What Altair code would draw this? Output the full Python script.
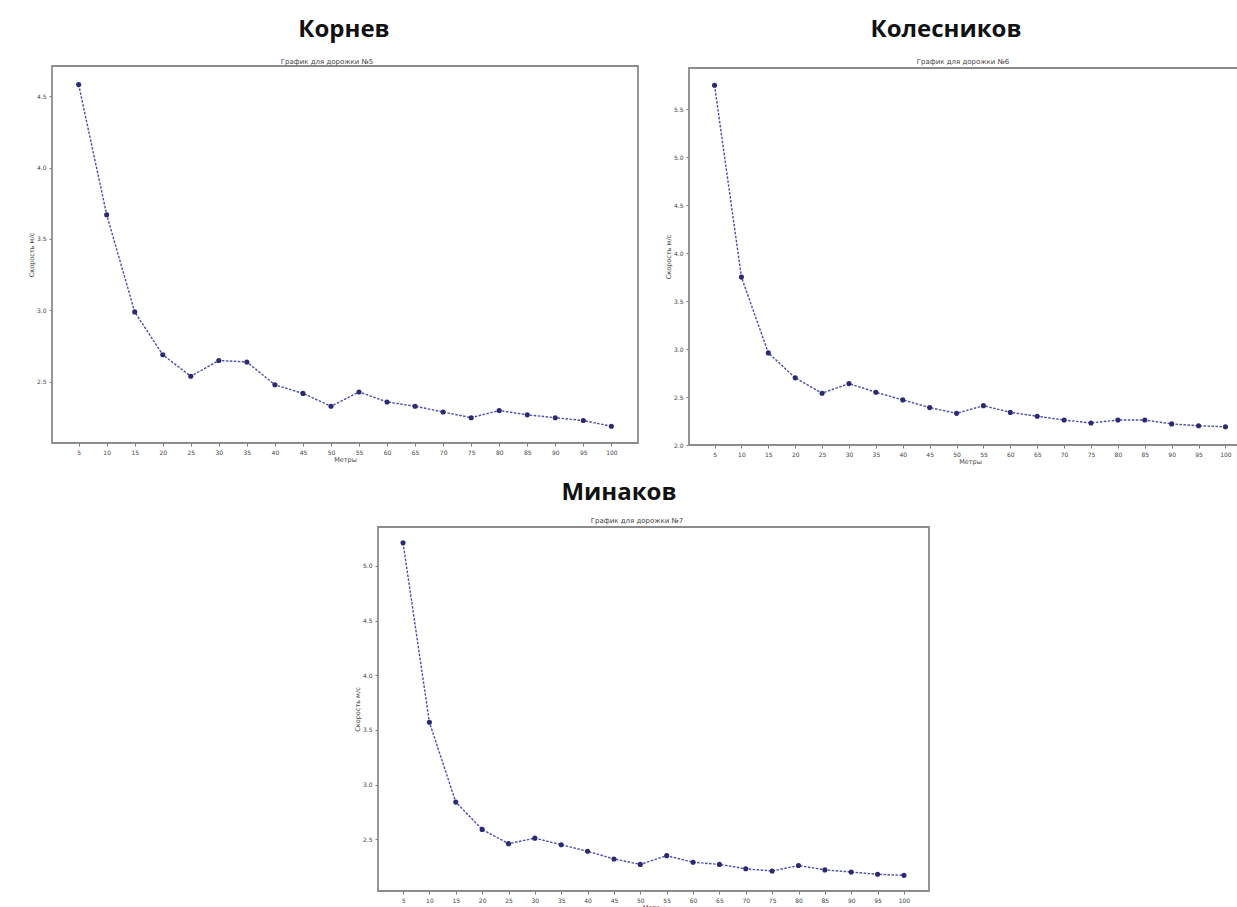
import altair as alt
import pandas as pd

# Distance marks along the track (metres)
metres = [5, 10, 15, 20, 25, 30, 35, 40, 45, 50, 55, 60, 65, 70, 75, 80, 85, 90, 95, 100]

# Speed (m/s) at each mark, per runner
kornev = [4.58, 3.67, 2.99, 2.69, 2.54, 2.65, 2.64, 2.48, 2.42, 2.33, 2.43, 2.36,
          2.33, 2.29, 2.25, 2.30, 2.27, 2.25, 2.23, 2.19]
kolesnikov = [5.75, 3.75, 2.96, 2.70, 2.54, 2.64, 2.55, 2.47, 2.39, 2.33, 2.41, 2.34,
              2.30, 2.26, 2.23, 2.26, 2.26, 2.22, 2.20, 2.19]
minakov = [5.21, 3.57, 2.84, 2.59, 2.46, 2.51, 2.45, 2.39, 2.32, 2.27, 2.35, 2.29,
           2.27, 2.23, 2.21, 2.26, 2.22, 2.20, 2.18, 2.17]

runners = ["Корнев", "Колесников", "Минаков"]
plot_titles = ["График для дорожки №5", "График для дорожки №6", "График для дорожки №7"]
series = [kornev, kolesnikov, minakov]

y_tick_values = [
    [2.5, 3.0, 3.5, 4.0, 4.5],
    [2.0, 2.5, 3.0, 3.5, 4.0, 4.5, 5.0, 5.5],
    [2.5, 3.0, 3.5, 4.0, 4.5, 5.0],
]
x_domain = [0.25, 104.75]
y_domains = [[2.073, 4.71], [2.0, 5.93], [2.027, 5.355]]

W, H = 1237, 907

# Pixel placement of each panel: plot area left/right/top/bottom and title anchors
layout = [
    dict(left=52, right=638, top=66, bottom=443, name_x=344, name_y=30, sub_x=327, sub_y=62),
    dict(left=689, right=1251, top=68, bottom=445, name_x=946, name_y=30, sub_x=963, sub_y=62),
    dict(left=378, right=929, top=527, bottom=891, name_x=619, name_y=493, sub_x=637, sub_y=521),
]

LINE_COLOR = "#4b4bb0"
POINT_COLOR = "#2b2b72"
FRAME_COLOR = "#8c8c8c"
TEXT_COLOR = "#444444"
SMALL_FONT = "DejaVu Sans"


def panel(i):
    lay = layout[i]
    df = pd.DataFrame({"m": metres, "v": series[i]})
    x_scale = alt.Scale(domain=x_domain, range=[lay["left"], lay["right"]], nice=False, zero=False)
    y_scale = alt.Scale(domain=y_domains[i], range=[lay["bottom"], lay["top"]], nice=False, zero=False)

    x_axis = alt.Axis(
        title="Метры", values=metres, format="d", orient="bottom",
        offset=lay["bottom"] - H, domain=False, grid=False,
        tickSize=3, tickColor="#555555", tickWidth=0.8,
        labelFont=SMALL_FONT, labelFontSize=6, labelColor=TEXT_COLOR, labelPadding=3,
        labelOverlap=False, labelFlush=False,
        titleFont=SMALL_FONT, titleFontSize=6.5, titleFontWeight="normal",
        titleColor=TEXT_COLOR, titlePadding=1,
    )
    y_axis = alt.Axis(
        title="Скорость м/с", values=y_tick_values[i], format=".1f", orient="left",
        offset=-lay["left"], domain=False, grid=False,
        tickSize=3, tickColor="#555555", tickWidth=0.8,
        labelFont=SMALL_FONT, labelFontSize=6, labelColor=TEXT_COLOR, labelPadding=3,
        labelOverlap=False, labelFlush=False,
        titleFont=SMALL_FONT, titleFontSize=6.5, titleFontWeight="normal",
        titleColor=TEXT_COLOR, titlePadding=2,
    )

    base = alt.Chart(df)
    line = base.mark_line(color=LINE_COLOR, strokeWidth=1.4, strokeDash=[2.5, 1.5]).encode(
        x=alt.X("m:Q", scale=x_scale, axis=x_axis),
        y=alt.Y("v:Q", scale=y_scale, axis=y_axis),
    )
    points = base.mark_circle(color=POINT_COLOR, size=26, opacity=1).encode(
        x=alt.X("m:Q"), y=alt.Y("v:Q"),
    )

    frame_df = pd.DataFrame({
        "m": [x_domain[0]], "m2": [x_domain[1]],
        "v": [y_domains[i][0]], "v2": [y_domains[i][1]],
    })
    frame = alt.Chart(frame_df).mark_rect(
        fill=None, stroke=FRAME_COLOR, strokeWidth=1.8
    ).encode(x="m:Q", x2="m2:Q", y="v:Q", y2="v2:Q")

    label_df = pd.DataFrame({"name": [runners[i]], "sub": [plot_titles[i]]})
    name_text = alt.Chart(label_df).mark_text(
        font="Open Sans", fontSize=24, fontWeight="bold", color="#111111",
        align="center", baseline="middle",
    ).encode(x=alt.value(lay["name_x"]), y=alt.value(lay["name_y"]), text="name:N")
    sub_text = alt.Chart(label_df).mark_text(
        font=SMALL_FONT, fontSize=7, color=TEXT_COLOR,
        align="center", baseline="middle",
    ).encode(x=alt.value(lay["sub_x"]), y=alt.value(lay["sub_y"]), text="sub:N")

    return alt.layer(frame, line, points, name_text, sub_text)


chart = (
    alt.layer(panel(0), panel(1), panel(2))
    .resolve_scale(x="independent", y="independent")
    .resolve_axis(x="independent", y="independent")
    .properties(width=W, height=H, autosize=alt.AutoSizeParams(type="none"), padding=0,
                background="white")
    .configure_view(stroke=None)
)

chart.save("out.html", embed_options={"renderer": "svg", "actions": False})
